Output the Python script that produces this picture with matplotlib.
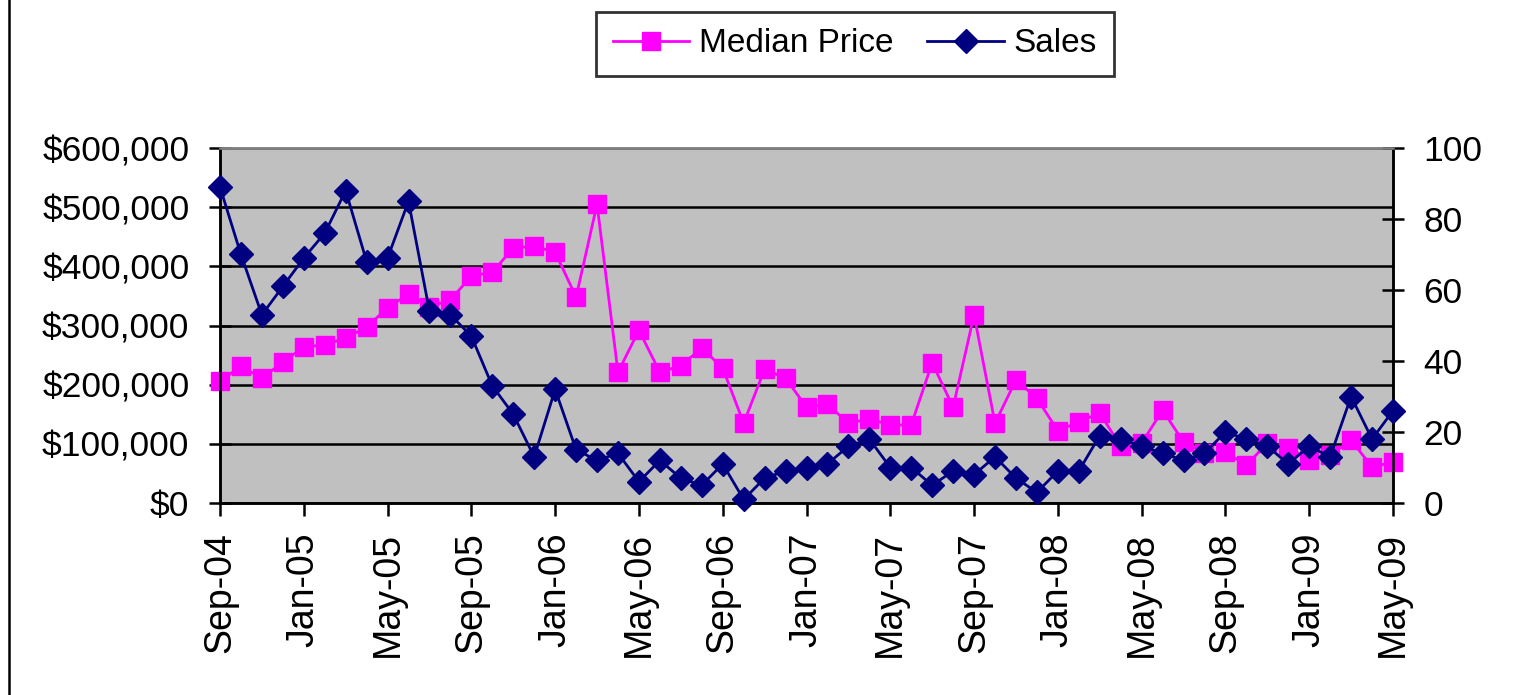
import numpy as np
import pandas as pd
import matplotlib
matplotlib.use("Agg")
import matplotlib.pyplot as plt
from matplotlib.ticker import FuncFormatter
from matplotlib.lines import Line2D

plt.rcParams['font.family'] = ['Liberation Sans', 'DejaVu Sans']

# --- data ---
months = pd.date_range('2004-09-01', periods=57, freq='MS')
month_labels = [m.strftime('%b-%y') for m in months]

median_price = [206000, 231000, 211000, 238000, 264000, 267000, 279000, 297000,
                330000, 353000, 332000, 343000, 384000, 390000, 431000, 434000,
                424000, 348000, 505000, 221000, 292000, 221000, 232000, 262000,
                228000, 135000, 226000, 211000, 162000, 167000, 135000, 142000,
                132000, 132000, 237000, 162000, 318000, 135000, 208000, 177000,
                122000, 137000, 152000, 96000, 101000, 157000, 103000, 85000,
                86000, 64000, 101000, 93000, 73000, 81000, 106000, 61000, 69000]

sales = [89, 70, 53, 61, 69, 76, 88, 68, 69, 85, 54, 53, 47, 33, 25, 13,
         32, 15, 12, 14, 6, 12, 7, 5, 11, 1, 7, 9, 10, 11, 16, 18,
         10, 10, 5, 9, 8, 13, 7, 3, 9, 9, 19, 18, 16, 14, 12, 14,
         20, 18, 16, 11, 16, 13, 30, 18, 26]

price_ticks = [0, 100000, 200000, 300000, 400000, 500000, 600000]
sales_ticks = [0, 20, 40, 60, 80, 100]

PINK = '#FF00FF'
NAVY = '#000080'

fig = plt.figure(figsize=(15.13, 6.95), dpi=100)
ax = fig.add_axes([220 / 1513, 1 - 503 / 695, (1393 - 220) / 1513, (503 - 148) / 695])
ax2 = ax.twinx()

x = np.arange(len(median_price))

ax.set_facecolor('#C0C0C0')
ax.plot(x, median_price, color=PINK, lw=2.0, marker='s', ms=12.5, mec=PINK, mfc=PINK,
        label='Median Price', zorder=3, clip_on=False)
ax2.plot(x, sales, color=NAVY, lw=2.0, marker='D', ms=12.5, mec=NAVY, mfc=NAVY,
         label='Sales', zorder=3, clip_on=False)

ax.set_xlim(0, len(x) - 1)
ax.set_ylim(0, 600000)
ax2.set_ylim(0, 100)

ax.set_yticks(price_ticks)
ax.yaxis.set_major_formatter(FuncFormatter(lambda v, p: f'${v:,.0f}'))
ax2.set_yticks(sales_ticks)

ax.set_xticks(x[::4])
ax.set_xticklabels(month_labels[::4], rotation=90)

# horizontal grid on price axis
ax.grid(axis='y', color='black', lw=1.8)
ax.set_axisbelow(True)

for a in (ax, ax2):
    for s in a.spines.values():
        s.set_linewidth(1.8)
        s.set_color('black')
    a.spines['top'].set_color('#808080')

ax.tick_params(axis='y', direction='inout', length=16, width=1.8, labelsize=25.5, pad=14)
ax2.tick_params(axis='y', direction='inout', length=16, width=1.8, labelsize=25.5, pad=14)
ax.tick_params(axis='x', direction='out', length=9, width=1.8, labelsize=27, pad=12)

handles = [Line2D([], [], color=PINK, lw=2.0, marker='s', ms=12.5),
           Line2D([], [], color=NAVY, lw=2.0, marker='D', ms=12.5)]
leg = fig.legend(handles, ['Median Price', 'Sales'], loc='center',
                 bbox_to_anchor=(855 / 1513, 1 - 44 / 695), ncol=2, fontsize=24,
                 frameon=True, fancybox=False, edgecolor='black', handlelength=2.3,
                 columnspacing=1.0, handletextpad=0.3, borderpad=0.5)
leg.get_frame().set_linewidth(2.0)

# left edge of the outer frame
fig.add_artist(Line2D([9 / 1513, 9 / 1513], [0, 1], color='black', lw=1.8,
                      transform=fig.transFigure))

fig.savefig('out.png', dpi=100)
